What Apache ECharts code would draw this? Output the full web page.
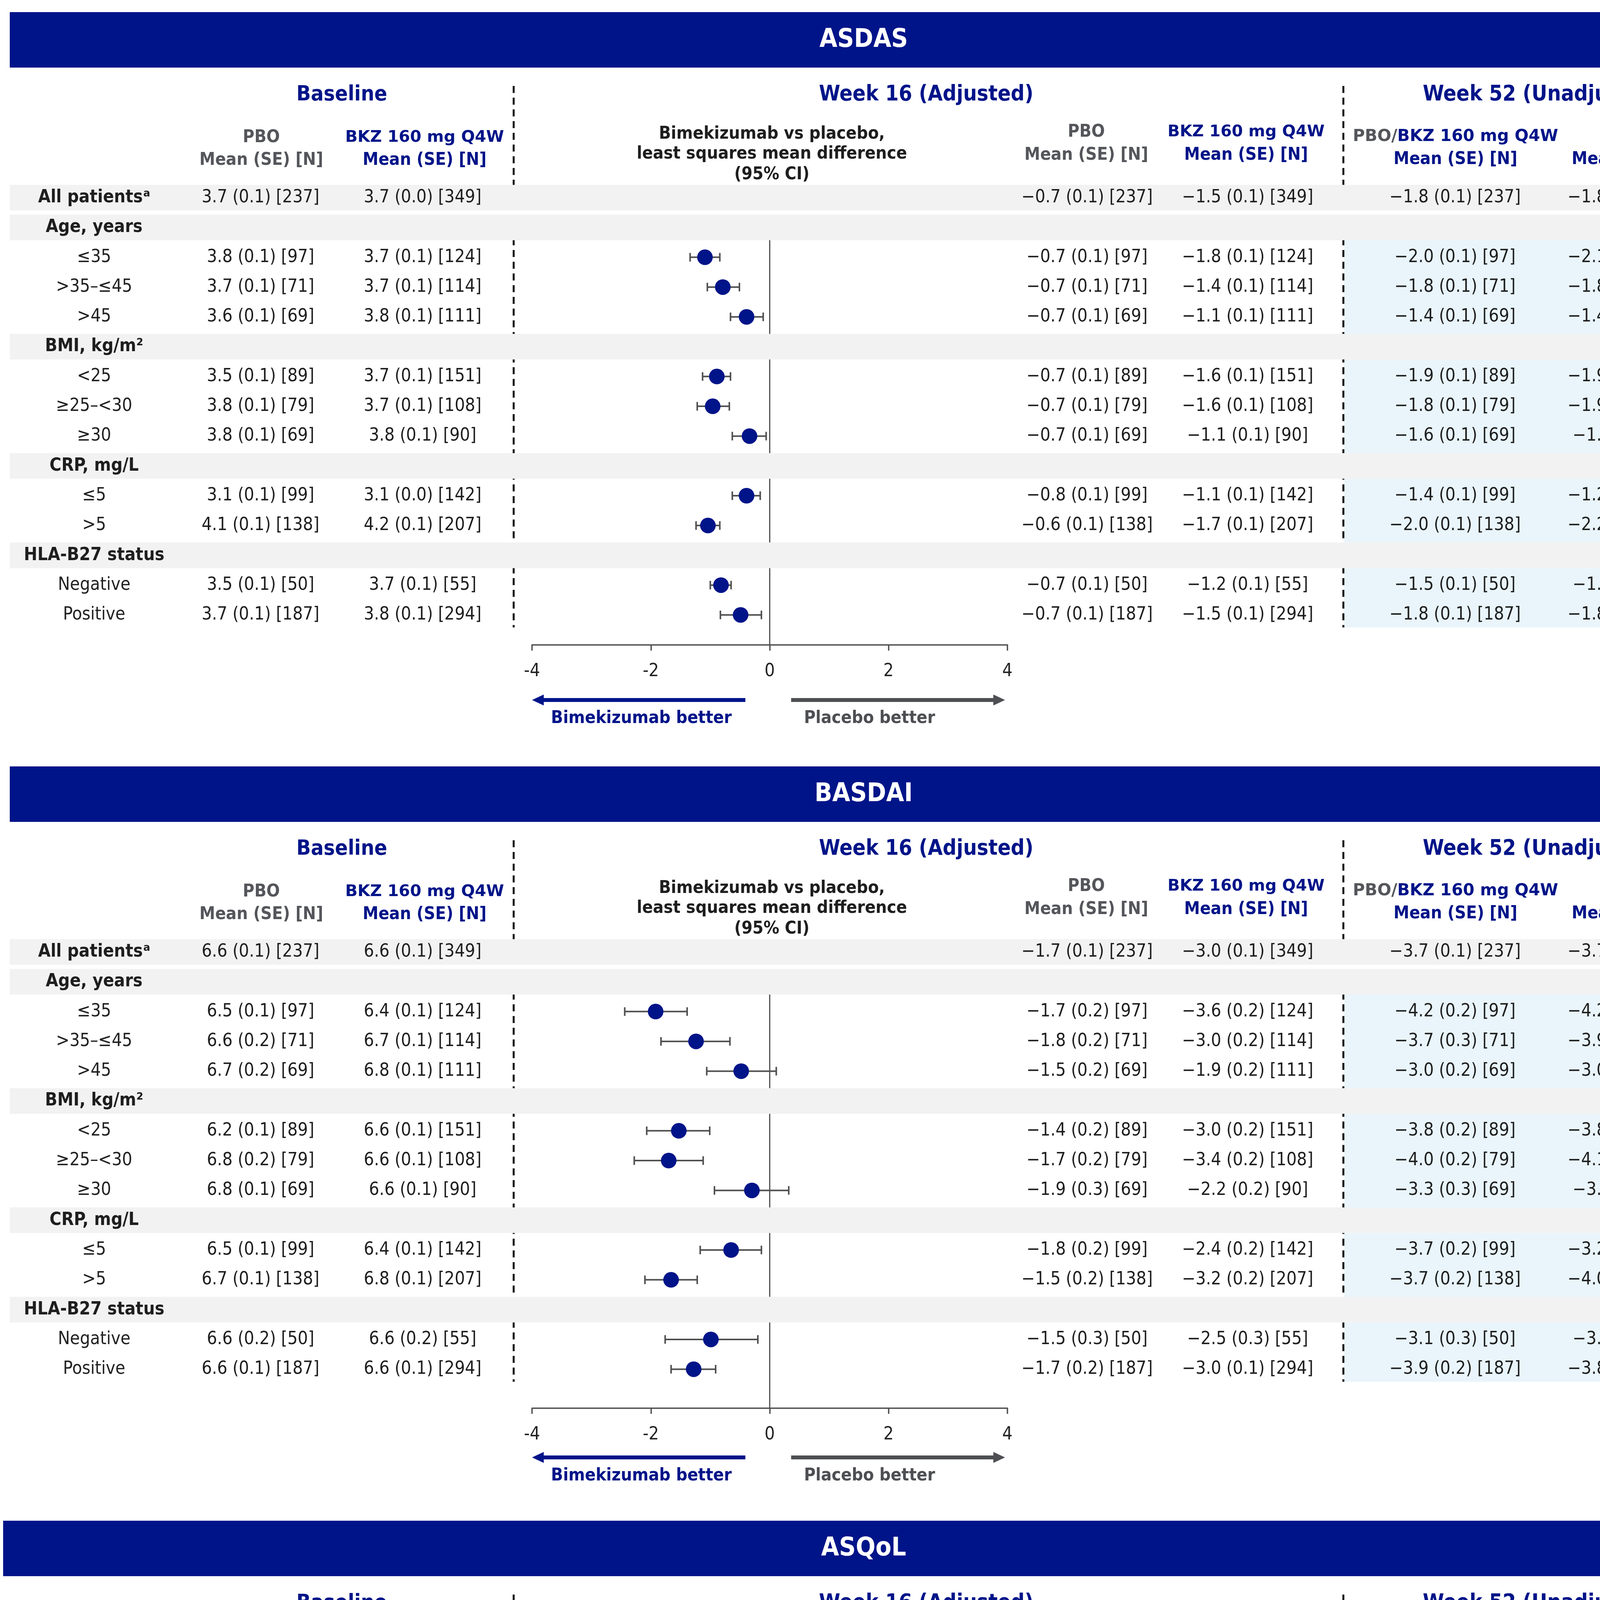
<!DOCTYPE html>
<html><head><meta charset="utf-8">
<script src="https://cdn.jsdelivr.net/npm/echarts@6/dist/echarts.min.js"></script>
<style>html,body{margin:0;padding:0;background:#fff}#c{width:4426px;height:6221px}</style>
</head><body><div id="c"></div>
<script>
// ---------------- DATA ----------------
const panelTitles = ['ASDAS', 'BASDAI', 'ASQoL'];
const sectionTitles = ['Baseline', 'Week 16 (Adjusted)', 'Week 52 (Unadjusted)'];
const rowLabels = ['All patientsᵃ', 'Age, years', '≤35', '>35–≤45', '>45', 'BMI, kg/m²', '<25', '≥25–<30', '≥30',
  'CRP, mg/L', '≤5', '>5', 'HLA-B27 status', 'Negative', 'Positive'];
const headerRowIdx = [0, 1, 5, 9, 12];
const forestRowIdx = [2, 3, 4, 6, 7, 8, 10, 11, 13, 14];
const xTickValues = [-4, -2, 0, 2, 4];

const asdasBlPbo = ['3.7 (0.1) [237]','','3.8 (0.1) [97]','3.7 (0.1) [71]','3.6 (0.1) [69]','','3.5 (0.1) [89]','3.8 (0.1) [79]','3.8 (0.1) [69]','','3.1 (0.1) [99]','4.1 (0.1) [138]','','3.5 (0.1) [50]','3.7 (0.1) [187]'];
const asdasBlBkz = ['3.7 (0.0) [349]','','3.7 (0.1) [124]','3.7 (0.1) [114]','3.8 (0.1) [111]','','3.7 (0.1) [151]','3.7 (0.1) [108]','3.8 (0.1) [90]','','3.1 (0.0) [142]','4.2 (0.1) [207]','','3.7 (0.1) [55]','3.8 (0.1) [294]'];
const asdasW16Pbo = ['−0.7 (0.1) [237]','','−0.7 (0.1) [97]','−0.7 (0.1) [71]','−0.7 (0.1) [69]','','−0.7 (0.1) [89]','−0.7 (0.1) [79]','−0.7 (0.1) [69]','','−0.8 (0.1) [99]','−0.6 (0.1) [138]','','−0.7 (0.1) [50]','−0.7 (0.1) [187]'];
const asdasW16Bkz = ['−1.5 (0.1) [349]','','−1.8 (0.1) [124]','−1.4 (0.1) [114]','−1.1 (0.1) [111]','','−1.6 (0.1) [151]','−1.6 (0.1) [108]','−1.1 (0.1) [90]','','−1.1 (0.1) [142]','−1.7 (0.1) [207]','','−1.2 (0.1) [55]','−1.5 (0.1) [294]'];
const asdasW52Pbo = ['−1.8 (0.1) [237]','','−2.0 (0.1) [97]','−1.8 (0.1) [71]','−1.4 (0.1) [69]','','−1.9 (0.1) [89]','−1.8 (0.1) [79]','−1.6 (0.1) [69]','','−1.4 (0.1) [99]','−2.0 (0.1) [138]','','−1.5 (0.1) [50]','−1.8 (0.1) [187]'];
const asdasW52Bkz = ['−1.8 (0.1) [349]','','−2.1 (0.1) [124]','−1.8 (0.1) [114]','−1.4 (0.1) [111]','','−1.9 (0.1) [151]','−1.9 (0.1) [108]','−1.5 (0.1) [90]','','−1.2 (0.1) [142]','−2.2 (0.1) [207]','','−1.6 (0.1) [55]','−1.8 (0.1) [294]'];
const asdasDiff = [-1.09, -0.79, -0.39, -0.89, -0.96, -0.34, -0.39, -1.04, -0.82, -0.49];
const asdasLow  = [-1.34, -1.05, -0.66, -1.13, -1.22, -0.63, -0.63, -1.24, -1.00, -0.83];
const asdasHigh = [-0.84, -0.51, -0.11, -0.66, -0.68, -0.06, -0.16, -0.84, -0.65, -0.14];

const basdaiBlPbo = ['6.6 (0.1) [237]','','6.5 (0.1) [97]','6.6 (0.2) [71]','6.7 (0.2) [69]','','6.2 (0.1) [89]','6.8 (0.2) [79]','6.8 (0.1) [69]','','6.5 (0.1) [99]','6.7 (0.1) [138]','','6.6 (0.2) [50]','6.6 (0.1) [187]'];
const basdaiBlBkz = ['6.6 (0.1) [349]','','6.4 (0.1) [124]','6.7 (0.1) [114]','6.8 (0.1) [111]','','6.6 (0.1) [151]','6.6 (0.1) [108]','6.6 (0.1) [90]','','6.4 (0.1) [142]','6.8 (0.1) [207]','','6.6 (0.2) [55]','6.6 (0.1) [294]'];
const basdaiW16Pbo = ['−1.7 (0.1) [237]','','−1.7 (0.2) [97]','−1.8 (0.2) [71]','−1.5 (0.2) [69]','','−1.4 (0.2) [89]','−1.7 (0.2) [79]','−1.9 (0.3) [69]','','−1.8 (0.2) [99]','−1.5 (0.2) [138]','','−1.5 (0.3) [50]','−1.7 (0.2) [187]'];
const basdaiW16Bkz = ['−3.0 (0.1) [349]','','−3.6 (0.2) [124]','−3.0 (0.2) [114]','−1.9 (0.2) [111]','','−3.0 (0.2) [151]','−3.4 (0.2) [108]','−2.2 (0.2) [90]','','−2.4 (0.2) [142]','−3.2 (0.2) [207]','','−2.5 (0.3) [55]','−3.0 (0.1) [294]'];
const basdaiW52Pbo = ['−3.7 (0.1) [237]','','−4.2 (0.2) [97]','−3.7 (0.3) [71]','−3.0 (0.2) [69]','','−3.8 (0.2) [89]','−4.0 (0.2) [79]','−3.3 (0.3) [69]','','−3.7 (0.2) [99]','−3.7 (0.2) [138]','','−3.1 (0.3) [50]','−3.9 (0.2) [187]'];
const basdaiW52Bkz = ['−3.7 (0.1) [349]','','−4.2 (0.2) [124]','−3.9 (0.2) [114]','−3.0 (0.2) [111]','','−3.8 (0.2) [151]','−4.1 (0.2) [108]','−3.1 (0.2) [90]','','−3.2 (0.2) [142]','−4.0 (0.2) [207]','','−3.3 (0.3) [55]','−3.8 (0.1) [294]'];
const basdaiDiff = [-1.92, -1.24, -0.48, -1.53, -1.70, -0.30, -0.65, -1.66, -0.99, -1.28];
const basdaiLow  = [-2.44, -1.83, -1.06, -2.07, -2.28, -0.93, -1.17, -2.10, -1.76, -1.66];
const basdaiHigh = [-1.39, -0.67, 0.11, -1.01, -1.12, 0.32, -0.14, -1.22, -0.20, -0.91];

const asqolBlPbo = ['9.0 (0.3) [237]','','8.6 (0.5) [97]','8.9 (0.5) [71]','9.6 (0.5) [69]','','8.0 (0.4) [89]','9.1 (0.5) [79]','10.1 (0.5) [69]','','8.3 (0.4) [99]','9.5 (0.4) [138]','','8.5 (0.5) [50]','9.1 (0.3) [187]'];
const asqolBlBkz = ['9.2 (0.3) [349]','','8.7 (0.4) [124]','9.3 (0.4) [114]','9.7 (0.4) [111]','','8.9 (0.4) [151]','9.5 (0.5) [108]','9.4 (0.4) [90]','','8.6 (0.4) [142]','9.6 (0.3) [207]','','8.8 (0.6) [55]','9.3 (0.3) [294]'];
const asqolW16Pbo = ['−2.8 (0.3) [237]','','−3.2 (0.4) [97]','−2.4 (0.5) [71]','−2.4 (0.5) [69]','','−2.6 (0.4) [89]','−3.2 (0.5) [79]','−2.6 (0.5) [69]','','−2.7 (0.4) [99]','−2.9 (0.4) [138]','','−2.5 (0.6) [50]','−2.9 (0.3) [187]'];
const asqolW16Bkz = ['−5.0 (0.2) [349]','','−5.7 (0.4) [124]','−4.9 (0.4) [114]','−3.6 (0.4) [111]','','−4.9 (0.3) [151]','−5.8 (0.4) [108]','−3.5 (0.4) [90]','','−4.0 (0.3) [142]','−5.4 (0.3) [207]','','−4.1 (0.5) [55]','−5.0 (0.3) [294]'];
const asqolW52Pbo = ['−5.4 (0.3) [237]','','−6.1 (0.5) [97]','−5.3 (0.5) [71]','−4.7 (0.5) [69]','','−5.1 (0.4) [89]','−6.4 (0.5) [79]','−4.7 (0.6) [69]','','−4.9 (0.4) [99]','−5.8 (0.4) [138]','','−4.5 (0.6) [50]','−5.7 (0.3) [187]'];
const asqolW52Bkz = ['−5.8 (0.3) [349]','','−6.3 (0.4) [124]','−5.9 (0.5) [114]','−5.0 (0.4) [111]','','−5.6 (0.4) [151]','−6.6 (0.5) [108]','−5.0 (0.5) [90]','','−4.7 (0.4) [142]','−6.5 (0.3) [207]','','−4.5 (0.7) [55]','−6.0 (0.3) [294]'];
const asqolDiff = [-2.50, -2.46, -1.19, -2.29, -2.64, -0.89, -1.37, -2.50, -1.66, -2.08];
const asqolLow  = [-3.52, -3.60, -2.35, -3.29, -3.77, -2.10, -2.38, -3.35, -3.18, -2.79];
const asqolHigh = [-1.47, -1.31, -0.03, -1.28, -1.50, 0.32, -0.37, -1.66, -0.16, -1.36];

const footnoteLines = [
  'Randomized set. N numbers indicate the total number of patients available in the randomized group. For ASDAS, BASDAI and ASQoL, greater decreases indicate larger improvement. ASDAS, BASDAI and ASQoL',
  'reported with MI. Adjusted least squares mean differences calculated using ANCOVA with factors for treatment, region, feeder study (BE MOBILE 1 or BE MOBILE 2), baseline continuous variable value,',
  'subgroup, and treatment × subgroup. [a] Unadjusted data reported for all patients group at Week 16 and Week 52. ANCOVA: analysis of covariance; ASDAS: Axial Spondyloarthritis Disease Activity Score;',
  'ASQoL: Ankylosing Spondylitis Quality of Life; axSpA: axial spondyloarthritis; BASDAI: Bath Ankylosing Spondylitis Disease Activity Index; BKZ: bimekizumab; BMI: body mass index; CI: confidence interval; CRP:',
  'C-reactive protein; HLA: human leukocyte antigen; MI: multiple imputation; PBO: placebo; Q4W: every 4 weeks; SE: standard error.'
];

// ---------------- STYLE / LAYOUT ----------------
const W = 4426;
const NAVY = '#001489';
const GREY_TXT = '#54565b';
const TXT = '#1e1e1e';
const LINE = '#505050';
const FONT = "'DejaVu Sans Condensed','DejaVu Sans',sans-serif";
const FONT_WIDE = "'DejaVu Sans',sans-serif";
const fnt = (s, b) => (b ? 'bold ' : '') + s + 'px ' + FONT;
const fntW = (s) => 'bold ' + s + 'px ' + FONT_WIDE;

const PANEL_DY = 1931;
const ROW0 = 506, PITCH = 76.3;
const yMaxByPanel = [15.0, 15.3, 15.3];
const arrowYByPanel = [1792, 1800, 1806];
const barLeft = [25, 25, 8];
const BAND_L = 25, BAND_R = 4398, BLUE_L = 3441;
const COL_X = [241, 667, 1082, 2783, 3194, 3725, 4181];
const DIV_X = [1315, 3439];
const FOREST_L = 1362, FOREST_R = 2579;
const BAND_HALF = 0.43;

const panels = [
  { cols: [asdasBlPbo, asdasBlBkz, asdasW16Pbo, asdasW16Bkz, asdasW52Pbo, asdasW52Bkz], diff: asdasDiff, low: asdasLow, high: asdasHigh },
  { cols: [basdaiBlPbo, basdaiBlBkz, basdaiW16Pbo, basdaiW16Bkz, basdaiW52Pbo, basdaiW52Bkz], diff: basdaiDiff, low: basdaiLow, high: basdaiHigh },
  { cols: [asqolBlPbo, asqolBlBkz, asqolW16Pbo, asqolW16Bkz, asqolW52Pbo, asqolW52Bkz], diff: asqolDiff, low: asqolLow, high: asqolHigh }
];

const grid = [], xAxis = [], yAxis = [], series = [], gEls = [];

function txt(x, y, text, font, fill, align, extra) {
  return Object.assign({ type: 'text', x: x, y: y, z: 20,
    style: { text: text, font: font, fill: fill, align: align || 'center', verticalAlign: 'middle',
             textAlign: align || 'center', textVerticalAlign: 'middle' } }, extra || {});
}

panels.forEach((P, p) => {
  const dy = p * PANEL_DY;
  const yMax = yMaxByPanel[p];
  const top = ROW0 + dy - 0.5 * PITCH;
  const h = (yMax + 0.5) * PITCH;
  const tg = 2 * p, fg = 2 * p + 1;

  grid.push({ left: 0, top: top, width: W, height: h, containLabel: false });
  grid.push({ left: FOREST_L, top: top, width: FOREST_R - FOREST_L, height: h, containLabel: false });
  xAxis.push({ gridIndex: tg, type: 'value', min: 0, max: W, show: false });
  xAxis.push({ gridIndex: fg, type: 'value', min: -4, max: 4, interval: 2, position: 'bottom',
    axisLine: { show: true, onZero: false, lineStyle: { color: LINE, width: 3.5 } },
    axisTick: { show: true, length: 15, lineStyle: { color: LINE, width: 3.5 } },
    axisLabel: { fontSize: 46, color: '#222', margin: 46, fontFamily: FONT, formatter: v => String(v) },
    splitLine: { show: false } });
  yAxis.push({ gridIndex: tg, type: 'value', inverse: true, min: -0.5, max: yMax, show: false });
  yAxis.push({ gridIndex: fg, type: 'value', inverse: true, min: -0.5, max: yMax, show: false });

  // header graphics
  gEls.push({ type: 'rect', z: 10, shape: { x: barLeft[p], y: dy + 31, width: 4398 - barLeft[p], height: 142 }, style: { fill: NAVY } });
  gEls.push(txt(2211, dy + 103, panelTitles[p], fnt(66, true), '#ffffff'));
  gEls.push(txt(875, dy + 243, sectionTitles[0], fnt(54, true), NAVY));
  gEls.push(txt(2371, dy + 243, sectionTitles[1], fnt(55, true), NAVY));
  gEls.push(txt(3952, dy + 243, sectionTitles[2], fnt(55, true), NAVY));
  gEls.push(txt(669, dy + 352, 'PBO', fnt(45, true), GREY_TXT));
  gEls.push(txt(669, dy + 410, 'Mean (SE) [N]', fnt(45, true), GREY_TXT));
  gEls.push(txt(1087, dy + 352, 'BKZ 160 mg Q4W', fntW(41.5), NAVY));
  gEls.push(txt(1087, dy + 410, 'Mean (SE) [N]', fnt(45, true), NAVY));
  gEls.push(txt(1976, dy + 343, 'Bimekizumab vs placebo,', fnt(45, true), TXT));
  gEls.push(txt(1976, dy + 394, 'least squares mean difference', fnt(45, true), TXT));
  gEls.push(txt(1976, dy + 447, '(95% CI)', fnt(45, true), TXT));
  gEls.push(txt(2781, dy + 338, 'PBO', fnt(45, true), GREY_TXT));
  gEls.push(txt(2781, dy + 397, 'Mean (SE) [N]', fnt(45, true), GREY_TXT));
  gEls.push(txt(3190, dy + 338, 'BKZ 160 mg Q4W', fntW(41), NAVY));
  gEls.push(txt(3190, dy + 397, 'Mean (SE) [N]', fnt(45, true), NAVY));
  gEls.push({ type: 'text', x: 3726, y: dy + 350, z: 20,
    style: { text: '{g|PBO/}{b|BKZ 160 mg Q4W}', align: 'center', verticalAlign: 'middle', textAlign: 'center', textVerticalAlign: 'middle',
      rich: { g: { font: fntW(42), fill: GREY_TXT }, b: { font: fntW(42), fill: NAVY } } } });
  gEls.push(txt(3726, dy + 408, 'Mean (SE) [N]', fnt(45, true), NAVY));
  gEls.push(txt(4182, dy + 350, 'BKZ', fntW(43), NAVY));
  gEls.push(txt(4182, dy + 408, 'Mean (SE) [N]', fnt(45, true), NAVY));

  // light blue week-52 blocks
  const blueBlocks = [[1 + BAND_HALF, 5 - BAND_HALF], [5 + BAND_HALF, 9 - BAND_HALF], [9 + BAND_HALF, 12 - BAND_HALF], [12 + BAND_HALF, 14.42]];
  series.push({ type: 'custom', xAxisIndex: tg, yAxisIndex: tg, z: 1, silent: true, data: blueBlocks,
    renderItem: (params, api) => {
      const a = api.coord([BLUE_L, api.value(0)]), b = api.coord([BAND_R, api.value(1)]);
      return { type: 'rect', shape: { x: a[0], y: a[1], width: b[0] - a[0], height: b[1] - a[1] }, style: { fill: '#e9f5fb' } };
    } });

  // dashed dividers
  series.push({ type: 'custom', xAxisIndex: tg, yAxisIndex: tg, z: 2, silent: true, data: DIV_X.map(x => [x, 14.42]),
    renderItem: (params, api) => {
      const b = api.coord([api.value(0), api.value(1)]);
      return { type: 'line', shape: { x1: b[0], y1: dy + 220, x2: b[0], y2: b[1] },
        style: { stroke: '#111', lineWidth: 5, lineDash: [18, 12] } };
    } });

  // grey bands
  series.push({ type: 'custom', xAxisIndex: tg, yAxisIndex: tg, z: 3, silent: true, data: headerRowIdx.map(r => [r]),
    renderItem: (params, api) => {
      const a = api.coord([BAND_L, api.value(0) - BAND_HALF]), b = api.coord([BAND_R, api.value(0) + BAND_HALF]);
      return { type: 'rect', shape: { x: a[0], y: a[1], width: b[0] - a[0], height: b[1] - a[1] }, style: { fill: '#f2f2f2' } };
    } });

  // table text cells
  const cells = [];
  rowLabels.forEach((lab, r) => {
    const isHead = headerRowIdx.indexOf(r) >= 0;
    cells.push({ v: [COL_X[0], r], text: lab, font: fnt(46, isHead), color: isHead ? TXT : '#222' });
    P.cols.forEach((col, c) => {
      if (col[r]) cells.push({ v: [COL_X[c + 1], r], text: col[r], font: fnt(46, false), color: TXT });
    });
  });
  series.push({ type: 'custom', xAxisIndex: tg, yAxisIndex: tg, z: 5, silent: true, data: cells.map(c => c.v),
    renderItem: (params, api) => {
      const c = cells[params.dataIndex];
      const pt = api.coord([api.value(0), api.value(1)]);
      return { type: 'text', x: pt[0], y: pt[1],
        style: { text: c.text, font: c.font, fill: c.color, align: 'center', verticalAlign: 'middle', textAlign: 'center', textVerticalAlign: 'middle' } };
    } });

  // zero reference line
  series.push({ type: 'custom', xAxisIndex: fg, yAxisIndex: fg, z: 2, silent: true, data: [[0, 1 + BAND_HALF, yMax]],
    renderItem: (params, api) => {
      const a = api.coord([api.value(0), api.value(1)]), b = api.coord([api.value(0), api.value(2)]);
      return { type: 'line', shape: { x1: a[0], y1: a[1], x2: b[0], y2: b[1] }, style: { stroke: LINE, lineWidth: 3 } };
    } });

  // CI error bars
  series.push({ type: 'custom', xAxisIndex: fg, yAxisIndex: fg, z: 6, silent: true,
    data: forestRowIdx.map((r, i) => [P.low[i], P.high[i], r]),
    renderItem: (params, api) => {
      const a = api.coord([api.value(0), api.value(2)]), b = api.coord([api.value(1), api.value(2)]);
      const st = { stroke: LINE, lineWidth: 4 };
      return { type: 'group', children: [
        { type: 'line', shape: { x1: a[0], y1: a[1], x2: b[0], y2: b[1] }, style: st },
        { type: 'line', shape: { x1: a[0], y1: a[1] - 11, x2: a[0], y2: a[1] + 11 }, style: st },
        { type: 'line', shape: { x1: b[0], y1: b[1] - 11, x2: b[0], y2: b[1] + 11 }, style: st }
      ] };
    } });

  // point estimates
  series.push({ type: 'scatter', xAxisIndex: fg, yAxisIndex: fg, z: 7, silent: true, symbol: 'circle', symbolSize: 40,
    itemStyle: { color: NAVY, opacity: 1 }, data: forestRowIdx.map((r, i) => [P.diff[i], r]) });

  // direction arrows below the axis
  const arrowSpec = [
    { from: -4, to: -0.41, head: 'left', color: NAVY, label: 'Bimekizumab better', lx: -2.16 },
    { from: 0.36, to: 3.96, head: 'right', color: '#4d4f53', label: 'Placebo better', lx: 1.68 }
  ];
  const arrowY = arrowYByPanel[p] + dy;
  series.push({ type: 'custom', xAxisIndex: fg, yAxisIndex: fg, z: 6, silent: true, clip: false,
    data: arrowSpec.map(a => [a.from, a.to, a.lx, yMax]),
    renderItem: (params, api) => {
      const s = arrowSpec[params.dataIndex];
      const a = api.coord([api.value(0), api.value(3)]), b = api.coord([api.value(1), api.value(3)]);
      const lp = api.coord([api.value(2), api.value(3)]);
      const y = arrowY, HL = 30, HH = 14, T = 5;
      let body, head;
      if (s.head === 'left') {
        body = { x: a[0] + HL - 2, y: y - T, width: b[0] - a[0] - HL + 2, height: 2 * T };
        head = [[a[0], y], [a[0] + HL, y - HH], [a[0] + HL, y + HH]];
      } else {
        body = { x: a[0], y: y - T, width: b[0] - a[0] - HL + 2, height: 2 * T };
        head = [[b[0], y], [b[0] - HL, y - HH], [b[0] - HL, y + HH]];
      }
      return { type: 'group', children: [
        { type: 'rect', shape: body, style: { fill: s.color } },
        { type: 'polygon', shape: { points: head }, style: { fill: s.color } },
        { type: 'text', x: lp[0], y: y + 47, style: { text: s.label, font: fnt(45, true), fill: s.color,
          align: 'center', verticalAlign: 'middle', textAlign: 'center', textVerticalAlign: 'middle' } }
      ] };
    } });
});

// footnote
gEls.push({ type: 'text', x: 79, y: 5836, z: 20,
  style: { text: footnoteLines.join('\n'), font: fnt(44, false), fill: '#1a1a1a', lineHeight: 55,
    align: 'left', verticalAlign: 'top', textAlign: 'left', textVerticalAlign: 'top' } });

const chart = echarts.init(document.getElementById('c'), null, { renderer: 'canvas', width: 4426, height: 6221 });
chart.setOption({
  animation: false,
  backgroundColor: '#ffffff',
  grid: grid, xAxis: xAxis, yAxis: yAxis, series: series,
  graphic: { elements: gEls }
});
</script></body></html>
